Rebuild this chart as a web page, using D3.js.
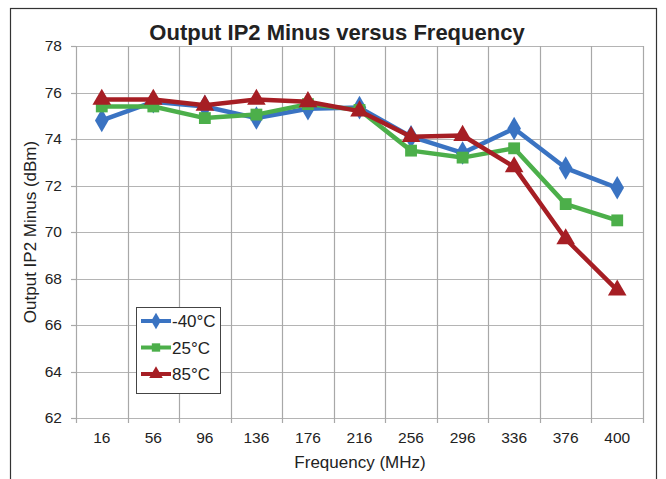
<!DOCTYPE html>
<html><head><meta charset="utf-8">
<script src="https://cdn.jsdelivr.net/npm/d3@7"></script>
<style>body{margin:0;background:#fff}svg{display:block;font-family:"Liberation Sans",Arial,sans-serif}</style>
</head><body>
<script>
const categories = ["16","56","96","136","176","216","256","296","336","376","400"];
const seriesNames = ["-40°C","25°C","85°C"];
const minus40 = [74.8,75.6,75.4,74.9,75.3,75.35,74.1,73.4,74.45,72.75,71.9];
const plus25 = [75.4,75.4,74.9,75.05,75.5,75.25,73.5,73.2,73.6,71.2,70.5];
const plus85 = [75.7,75.7,75.45,75.7,75.6,75.2,74.1,74.15,72.8,69.7,67.5];
const yTicks = [62,64,66,68,70,72,74,76,78];
const colors = ["#3a73c2","#4caf4a","#a61e24"];
const markers = [d3.symbolDiamond, d3.symbolSquare, d3.symbolTriangle];

const W=666,H=479;
const svg=d3.select("body").append("svg").attr("width",W).attr("height",H);
const m={l:76,r:643,t:46,b:418};
const x=d3.scaleBand().domain(categories).range([m.l,m.r]);
const y=d3.scaleLinear().domain([62,78]).range([m.b,m.t]);

// frame
svg.append("rect").attr("x",10.5).attr("y",8.5).attr("width",646).attr("height",490)
  .attr("fill","none").attr("stroke","#333").attr("stroke-width",1.2);

// grid
const g=svg.append("g");
g.selectAll(".hg").data(yTicks).join("line")
  .attr("x1",m.l).attr("x2",m.r).attr("y1",d=>Math.round(y(d))+0.5).attr("y2",d=>Math.round(y(d))+0.5)
  .attr("stroke","#b4b4b4").attr("stroke-width",1.2);
const bounds=categories.map(c=>x(c)).concat([m.r]);
g.selectAll(".vg").data(bounds).join("line")
  .attr("x1",d=>Math.round(d)+0.5).attr("x2",d=>Math.round(d)+0.5).attr("y1",m.t).attr("y2",m.b+5)
  .attr("stroke","#a8a8a8").attr("stroke-width",1.2);
g.selectAll(".yt").data(yTicks).join("line")
  .attr("x1",m.l-5).attr("x2",m.l).attr("y1",d=>Math.round(y(d))+0.5).attr("y2",d=>Math.round(y(d))+0.5)
  .attr("stroke","#a8a8a8").attr("stroke-width",1.2);

// axes labels
const yAxis=d3.axisLeft(y).tickValues(yTicks).tickSize(0).tickPadding(14);
const ya=svg.append("g").attr("transform",`translate(${m.l},0)`).call(yAxis);
ya.select(".domain").remove();
ya.selectAll("text").attr("font-size",15.5).attr("fill","#222").attr("font-family","Liberation Sans, Arial");
const xAxis=d3.axisBottom(x).tickSize(0).tickPadding(14);
const xa=svg.append("g").attr("transform",`translate(0,${m.b})`).call(xAxis);
xa.select(".domain").remove();
xa.selectAll("text").attr("font-size",15.5).attr("fill","#222").attr("font-family","Liberation Sans, Arial");

// titles
svg.append("text").attr("x",337).attr("y",40).attr("text-anchor","middle")
  .attr("font-size",22).attr("font-weight","bold").attr("fill","#222").text("Output IP2 Minus versus Frequency");
svg.append("text").attr("transform",`translate(36,${(m.t+m.b)/2}) rotate(-90)`).attr("text-anchor","middle")
  .attr("font-size",17).attr("fill","#222").text("Output IP2 Minus (dBm)");
svg.append("text").attr("x",360).attr("y",468).attr("text-anchor","middle")
  .attr("font-size",17).attr("fill","#222").text("Frequency (MHz)");

// series
const allSeries=[minus40,plus25,plus85];
const cx=c=>x(c)+x.bandwidth()/2;
const sizes=[160,140,150];
allSeries.forEach((vals,i)=>{
  const data=vals.map((v,j)=>({c:categories[j],v}));
  svg.append("path").datum(data)
    .attr("d",d3.line().x(d=>cx(d.c)).y(d=>y(d.v)))
    .attr("fill","none").attr("stroke",colors[i]).attr("stroke-width",4.5).attr("stroke-linejoin","round");
  svg.selectAll(".mk"+i).data(data).join("path")
    .attr("transform",d=>`translate(${cx(d.c)},${y(d.v)})`)
    .attr("d",d3.symbol().type(markers[i]).size(sizes[i]))
    .attr("fill",colors[i]);
});

// legend
const lg=svg.append("g");
lg.append("rect").attr("x",136.5).attr("y",307.5).attr("width",84).attr("height",86)
  .attr("fill","#fff").attr("stroke","#444").attr("stroke-width",1);
seriesNames.forEach((n,i)=>{
  const ly=321+i*26.5;
  lg.append("line").attr("x1",141).attr("x2",171).attr("y1",ly).attr("y2",ly)
    .attr("stroke",colors[i]).attr("stroke-width",4);
  lg.append("path").attr("transform",`translate(156,${ly})`)
    .attr("d",d3.symbol().type(markers[i]).size(i===0?80:(i===1?70:80))).attr("fill",colors[i]);
  lg.append("text").attr("x",172).attr("y",ly+6).attr("font-size",17).attr("fill","#222").text(n);
});
</script>
</body></html>
